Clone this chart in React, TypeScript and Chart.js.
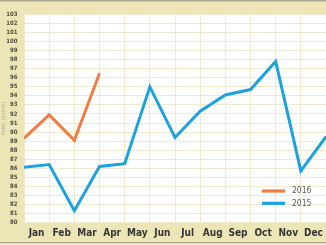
import React, { useEffect, useRef } from 'react';
import { Chart, registerables } from 'chart.js';

Chart.register(...registerables);

// ---- data ----
const months = ['Jan', 'Feb', 'Mar', 'Apr', 'May', 'Jun', 'Jul', 'Aug', 'Sep', 'Oct', 'Nov', 'Dec'];
const label2016 = '2016';
const label2015 = '2015';
const values2016 = [89.3, 91.9, 89.1, 96.5];
const values2015 = [86.1, 86.4, 81.3, 86.2, 86.5, 95.0, 89.4, 92.3, 94.1, 94.7, 97.8, 85.7, 89.5];
const yMin = 80;
const yMax = 103;
const yStep = 1;
const yAxisTitle = 'Index (points)';

const FAMILY = '"Liberation Sans Narrow", "Arial Narrow", "DejaVu Sans Condensed", "Liberation Sans", sans-serif';
const ORANGE = '#ef7d45';
const BLUE = '#1ca3de';
const BEIGE = '#ece6b7';
const GRID = '#f0ead0';

const bgPlugin = {
  id: 'bgPanels',
  beforeDraw(chart: any) {
    const { ctx, width, height, chartArea: a } = chart;
    ctx.save();
    ctx.fillStyle = BEIGE;
    ctx.fillRect(0, 0, width, height);
    ctx.fillStyle = '#ffffff';
    ctx.fillRect(a.left, a.top, a.right - a.left, a.bottom - a.top);
    ctx.fillStyle = '#aca58a';
    ctx.fillRect(0, 0, width, 1.5);
    ctx.fillRect(0, height - 3, width, 1.5);
    ctx.fillStyle = '#f3efd9';
    ctx.fillRect(0, height - 1.5, width, 1.5);
    ctx.restore();
  },
};

const legendPlugin = {
  id: 'cornerLegend',
  afterDraw(chart: any) {
    const { ctx, chartArea: a } = chart;
    const x0 = a.right - 64;
    const y0 = a.bottom - 31.5;
    ctx.save();
    chart.data.datasets.forEach((ds: any, i: number) => {
      const y = y0 + i * 12.3;
      ctx.strokeStyle = ds.borderColor;
      ctx.lineWidth = 3.2;
      ctx.lineCap = 'butt';
      ctx.beginPath();
      ctx.moveTo(x0, y);
      ctx.lineTo(x0 + 23, y);
      ctx.stroke();
      ctx.fillStyle = '#5a5a5a';
      ctx.font = `8.5px ${FAMILY}`;
      ctx.textBaseline = 'middle';
      ctx.textAlign = 'left';
      ctx.fillText(ds.label, x0 + 30, y);
    });
    ctx.restore();
  },
};

export default function App() {
  const ref = useRef<HTMLCanvasElement | null>(null);

  useEffect(() => {
    if (!ref.current) return;
    const chart = new Chart(ref.current, {
      type: 'line',
      data: {
        datasets: [
          {
            label: label2016,
            data: values2016.map((v, i) => ({ x: i, y: v })),
            borderColor: ORANGE,
            backgroundColor: ORANGE,
            borderWidth: 3,
            pointRadius: 0,
            tension: 0,
            borderJoinStyle: 'miter',
            fill: false,
          },
          {
            label: label2015,
            data: values2015.map((v, i) => ({ x: i, y: v })),
            borderColor: BLUE,
            backgroundColor: BLUE,
            borderWidth: 3,
            pointRadius: 0,
            tension: 0,
            borderJoinStyle: 'miter',
            fill: false,
          },
        ],
      },
      options: {
        animation: false,
        responsive: false,
        maintainAspectRatio: false,
        devicePixelRatio: 1,
        layout: { autoPadding: false, padding: { top: 14.5, left: 0, right: 0, bottom: 0 } },
        plugins: {
          legend: { display: false },
          tooltip: { enabled: false },
        },
        scales: {
          x: {
            type: 'linear',
            min: 0,
            max: months.length,
            border: { display: false },
            grid: {
              drawTicks: true,
              tickLength: 5,
              tickColor: 'rgba(0,0,0,0)',
              lineWidth: 1,
              color: (c: any) =>
                c.tick && Number.isInteger(c.tick.value) ? GRID : 'rgba(0,0,0,0)',
            },
            ticks: {
              stepSize: 0.5,
              autoSkip: false,
              maxRotation: 0,
              minRotation: 0,
              padding: 0,
              color: '#353535',
              font: { family: FAMILY, size: 10, weight: 'bold' },
              callback: (v: any) => {
                const n = Number(v);
                if (Number.isInteger(n)) return '';
                return months[Math.floor(n)] ?? '';
              },
            },
            afterFit: (s: any) => {
              s.height = 22.5;
            },
          },
          y: {
            type: 'linear',
            min: yMin,
            max: yMax,
            border: { display: false },
            grid: { drawTicks: false, color: GRID, lineWidth: 1 },
            ticks: {
              stepSize: yStep,
              autoSkip: false,
              padding: 6.5,
              color: '#4f4c3e',
              font: { family: FAMILY, size: 6, weight: 'bold' },
            },
            title: {
              display: true,
              text: yAxisTitle,
              color: '#b7b194',
              padding: 0,
              font: { family: FAMILY, size: 5.5 },
            },
            afterFit: (s: any) => {
              s.width = 24;
            },
          },
        },
      } as any,
      plugins: [bgPlugin, legendPlugin],
    });
    return () => chart.destroy();
  }, []);

  return (
    <div style={{ position: 'fixed', left: 0, top: 0, width: 326, height: 245 }}>
      <canvas ref={ref} width={326} height={245} style={{ display: 'block', width: 326, height: 245 }} />
    </div>
  );
}
